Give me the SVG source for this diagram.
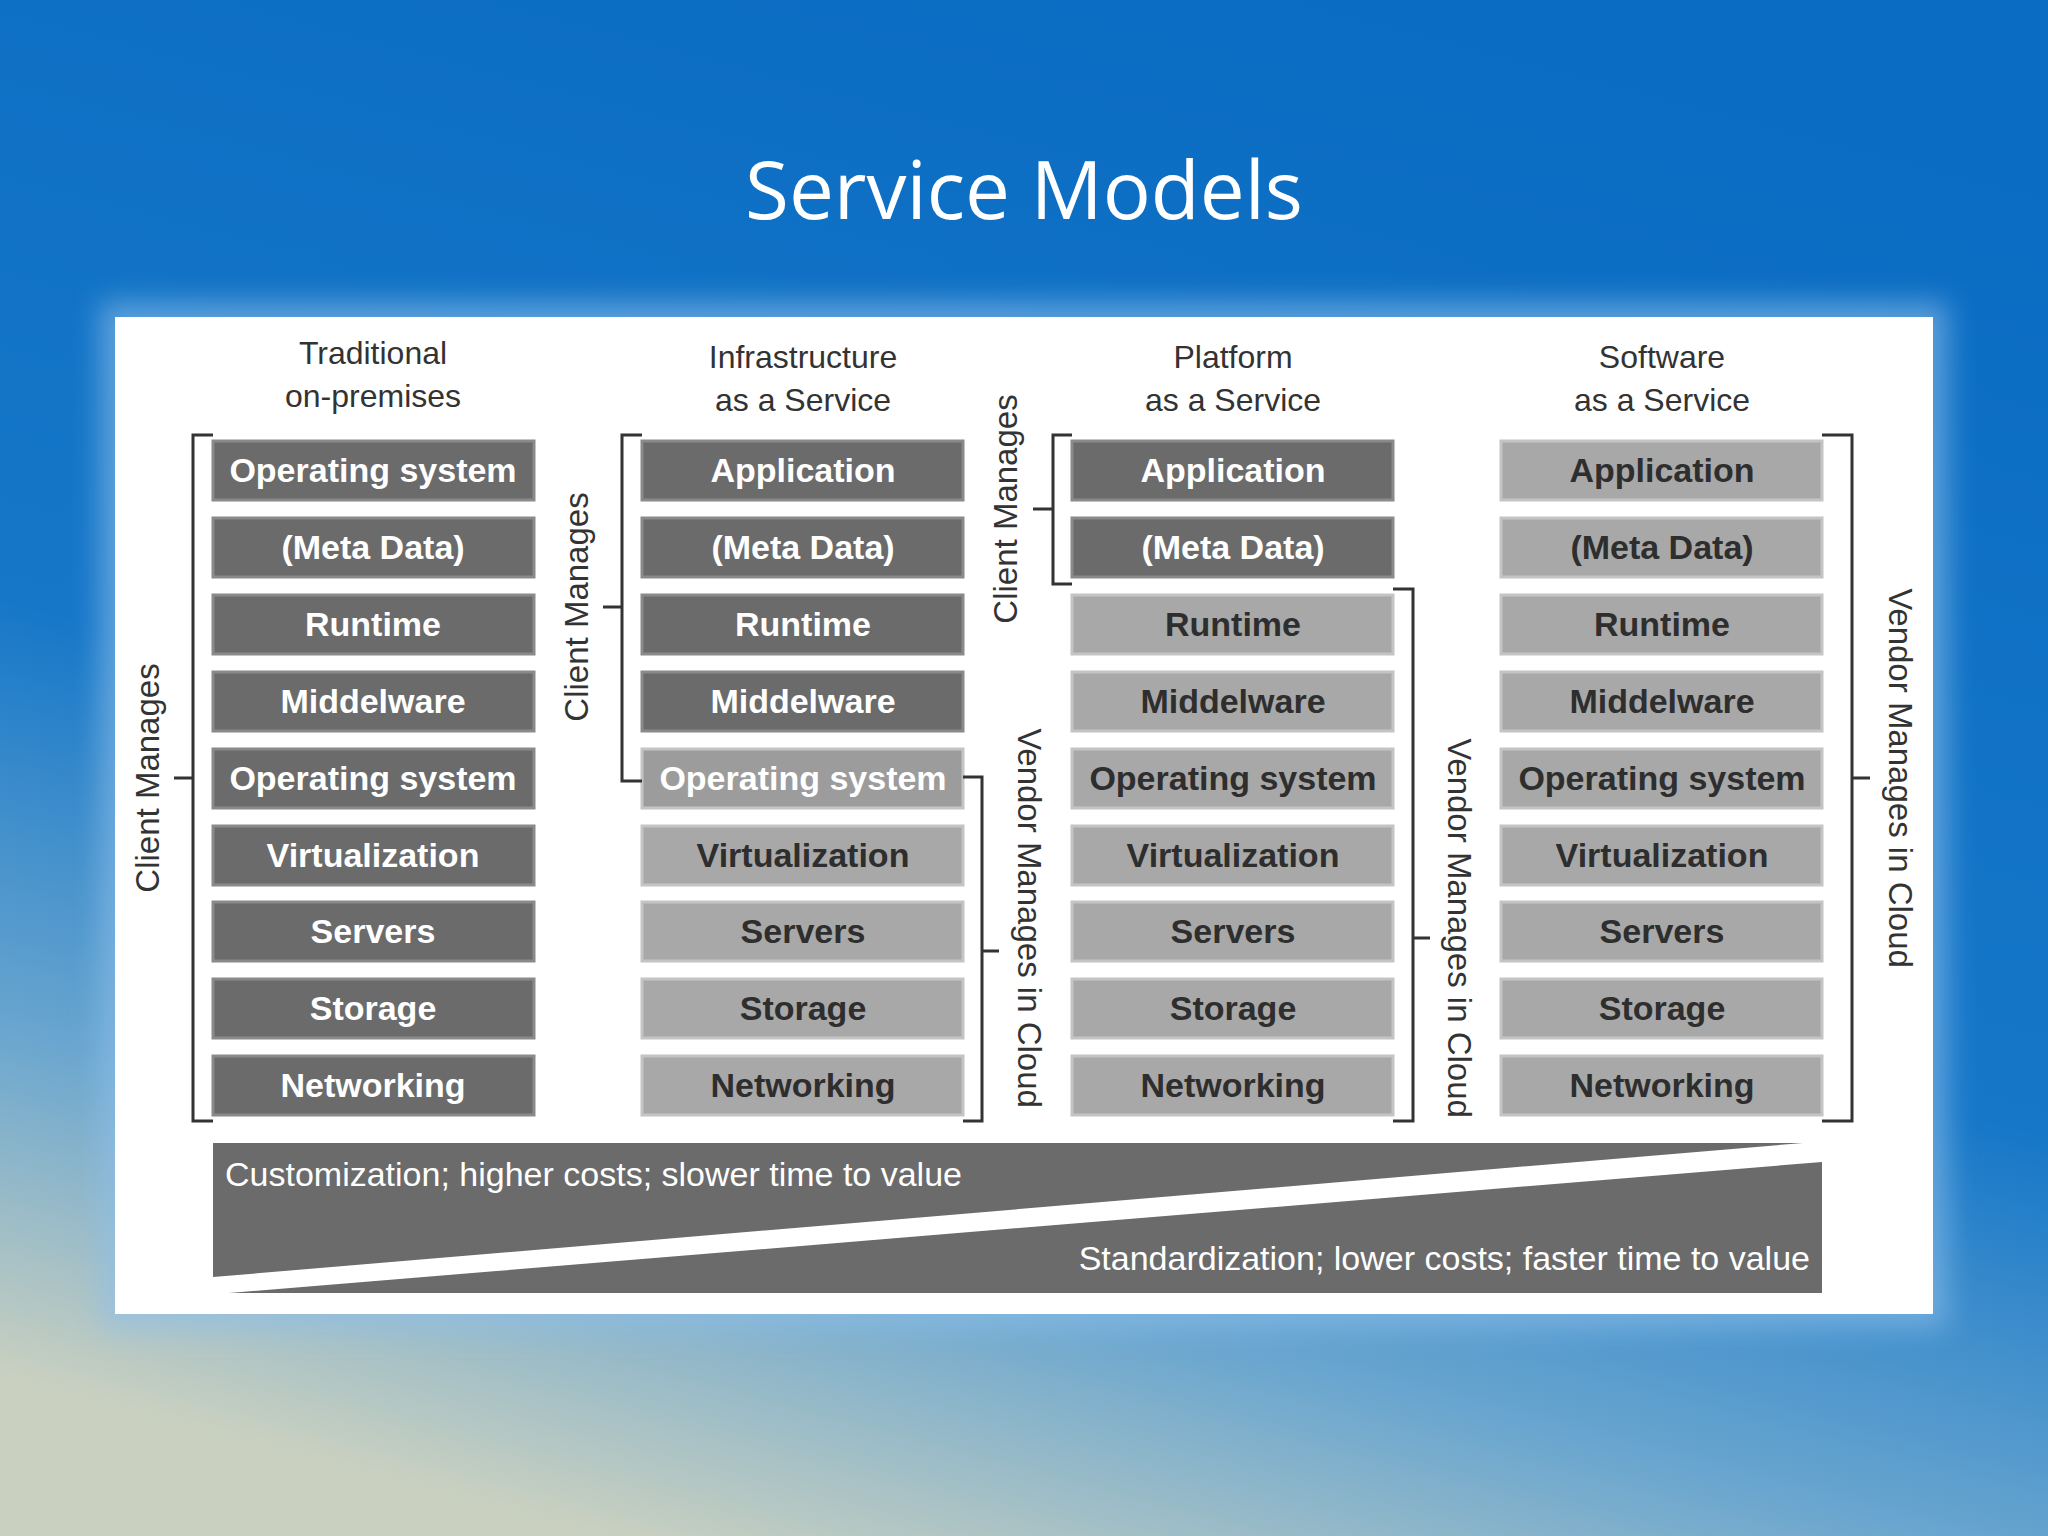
<svg xmlns="http://www.w3.org/2000/svg" width="2048" height="1536" viewBox="0 0 2048 1536">
<defs>
<linearGradient id="bg" x1="0.65" y1="0" x2="0.3" y2="1">
<stop offset="0" stop-color="#0a6cc2"/>
<stop offset="0.55" stop-color="#1677c8"/>
<stop offset="0.8" stop-color="#6aa6cf"/>
<stop offset="1" stop-color="#c9d0c0"/>
</linearGradient>
<filter id="glow" x="-5%" y="-5%" width="110%" height="110%"><feGaussianBlur stdDeviation="14"/></filter>
<style>
.dk{fill:#6b6b6b;stroke:#8a8a8a;stroke-width:3}
.lt{fill:#a8a8a8;stroke:#c4c4c4;stroke-width:3}
.md{fill:#9c9c9c;stroke:#c4c4c4;stroke-width:3}
.bt{font-family:"Liberation Sans",Arial,sans-serif;font-weight:bold;font-size:34px;text-anchor:middle}
.w{fill:#fff}.k{fill:#2e2e2e}
.hd{font-family:"Liberation Sans",Arial,sans-serif;font-size:32px;fill:#333;text-anchor:middle}
.rl{font-family:"Liberation Sans",Arial,sans-serif;font-size:33px;fill:#333;text-anchor:middle}
.br{fill:none;stroke:#333;stroke-width:3}
.wt{font-family:"Liberation Sans",Arial,sans-serif;font-size:34px;fill:#fff}
</style>
</defs>
<rect width="2048" height="1536" fill="url(#bg)"/>
<text x="1024" y="219" font-family="'Open Sans',sans-serif" font-size="80" fill="#fff" text-anchor="middle">Service Models</text>
<rect x="100" y="302" width="1848" height="1027" fill="#8fc0ea" opacity="0.6" filter="url(#glow)"/>
<rect x="115" y="317" width="1818" height="997" fill="#fff"/>
<g id="headers">
<text class="hd" x="373" y="364">Traditional</text><text class="hd" x="373" y="407">on-premises</text>
<text class="hd" x="803" y="368">Infrastructure</text><text class="hd" x="803" y="411">as a Service</text>
<text class="hd" x="1233" y="368">Platform</text><text class="hd" x="1233" y="411">as a Service</text>
<text class="hd" x="1662" y="368">Software</text><text class="hd" x="1662" y="411">as a Service</text>
</g>
<g id="col1">
<rect class="dk" x="213" y="441" width="321" height="59"/><text class="bt w" x="373" y="482">Operating system</text>
<rect class="dk" x="213" y="518" width="321" height="59"/><text class="bt w" x="373" y="559">(Meta Data)</text>
<rect class="dk" x="213" y="595" width="321" height="59"/><text class="bt w" x="373" y="636">Runtime</text>
<rect class="dk" x="213" y="672" width="321" height="59"/><text class="bt w" x="373" y="713">Middelware</text>
<rect class="dk" x="213" y="749" width="321" height="59"/><text class="bt w" x="373" y="790">Operating system</text>
<rect class="dk" x="213" y="826" width="321" height="59"/><text class="bt w" x="373" y="867">Virtualization</text>
<rect class="dk" x="213" y="902" width="321" height="59"/><text class="bt w" x="373" y="943">Servers</text>
<rect class="dk" x="213" y="979" width="321" height="59"/><text class="bt w" x="373" y="1020">Storage</text>
<rect class="dk" x="213" y="1056" width="321" height="59"/><text class="bt w" x="373" y="1097">Networking</text>
</g>
<g id="col2">
<rect class="dk" x="642" y="441" width="321" height="59"/><text class="bt w" x="803" y="482">Application</text>
<rect class="dk" x="642" y="518" width="321" height="59"/><text class="bt w" x="803" y="559">(Meta Data)</text>
<rect class="dk" x="642" y="595" width="321" height="59"/><text class="bt w" x="803" y="636">Runtime</text>
<rect class="dk" x="642" y="672" width="321" height="59"/><text class="bt w" x="803" y="713">Middelware</text>
<rect class="md" x="642" y="749" width="321" height="59"/><text class="bt w" x="803" y="790">Operating system</text>
<rect class="lt" x="642" y="826" width="321" height="59"/><text class="bt k" x="803" y="867">Virtualization</text>
<rect class="lt" x="642" y="902" width="321" height="59"/><text class="bt k" x="803" y="943">Servers</text>
<rect class="lt" x="642" y="979" width="321" height="59"/><text class="bt k" x="803" y="1020">Storage</text>
<rect class="lt" x="642" y="1056" width="321" height="59"/><text class="bt k" x="803" y="1097">Networking</text>
</g>
<g id="col3">
<rect class="dk" x="1072" y="441" width="321" height="59"/><text class="bt w" x="1233" y="482">Application</text>
<rect class="dk" x="1072" y="518" width="321" height="59"/><text class="bt w" x="1233" y="559">(Meta Data)</text>
<rect class="lt" x="1072" y="595" width="321" height="59"/><text class="bt k" x="1233" y="636">Runtime</text>
<rect class="lt" x="1072" y="672" width="321" height="59"/><text class="bt k" x="1233" y="713">Middelware</text>
<rect class="lt" x="1072" y="749" width="321" height="59"/><text class="bt k" x="1233" y="790">Operating system</text>
<rect class="lt" x="1072" y="826" width="321" height="59"/><text class="bt k" x="1233" y="867">Virtualization</text>
<rect class="lt" x="1072" y="902" width="321" height="59"/><text class="bt k" x="1233" y="943">Servers</text>
<rect class="lt" x="1072" y="979" width="321" height="59"/><text class="bt k" x="1233" y="1020">Storage</text>
<rect class="lt" x="1072" y="1056" width="321" height="59"/><text class="bt k" x="1233" y="1097">Networking</text>
</g>
<g id="col4">
<rect class="lt" x="1501" y="441" width="321" height="59"/><text class="bt k" x="1662" y="482">Application</text>
<rect class="lt" x="1501" y="518" width="321" height="59"/><text class="bt k" x="1662" y="559">(Meta Data)</text>
<rect class="lt" x="1501" y="595" width="321" height="59"/><text class="bt k" x="1662" y="636">Runtime</text>
<rect class="lt" x="1501" y="672" width="321" height="59"/><text class="bt k" x="1662" y="713">Middelware</text>
<rect class="lt" x="1501" y="749" width="321" height="59"/><text class="bt k" x="1662" y="790">Operating system</text>
<rect class="lt" x="1501" y="826" width="321" height="59"/><text class="bt k" x="1662" y="867">Virtualization</text>
<rect class="lt" x="1501" y="902" width="321" height="59"/><text class="bt k" x="1662" y="943">Servers</text>
<rect class="lt" x="1501" y="979" width="321" height="59"/><text class="bt k" x="1662" y="1020">Storage</text>
<rect class="lt" x="1501" y="1056" width="321" height="59"/><text class="bt k" x="1662" y="1097">Networking</text>
</g>
<g id="connectors">
<path class="br" d="M213 435 H193 V1121 H213 M193 778 H174"/>
<text class="rl" transform="translate(159 778) rotate(-90)">Client Manages</text>
<path class="br" d="M642 435 H622 V781 H642 M622 607 H603"/>
<text class="rl" transform="translate(588 607) rotate(-90)">Client Manages</text>
<path class="br" d="M963 777 H982 V1121 H963 M982 951 H999"/>
<text class="rl" transform="translate(1018 918) rotate(90)">Vendor Manages in Cloud</text>
<path class="br" d="M1072 435 H1053 V584 H1072 M1053 509 H1033"/>
<text class="rl" transform="translate(1017 509) rotate(-90)">Client Manages</text>
<path class="br" d="M1393 589 H1413 V1121 H1393 M1413 938 H1430"/>
<text class="rl" transform="translate(1448 928) rotate(90)">Vendor Manages in Cloud</text>
<path class="br" d="M1822 435 H1852 V1121 H1822 M1852 778 H1870"/>
<text class="rl" transform="translate(1889 778) rotate(90)">Vendor Manages in Cloud</text>
</g>
<g id="wedge">
<polygon points="213,1143 1803,1143 213,1277" fill="#6b6b6b"/>
<polygon points="229,1293 1822,1162 1822,1293" fill="#6b6b6b"/>
<text class="wt" x="225" y="1186">Customization; higher costs; slower time to value</text>
<text class="wt" x="1810" y="1270" text-anchor="end">Standardization; lower costs; faster time to value</text>
</g>
</svg>
